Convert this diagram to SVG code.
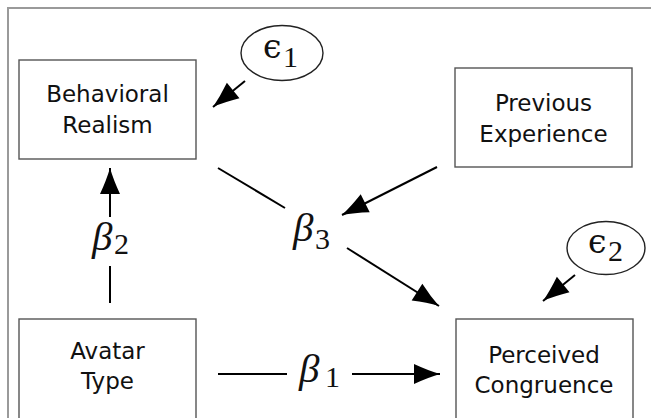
<svg xmlns="http://www.w3.org/2000/svg" width="651" height="418" viewBox="0 0 651 418">
<defs>
<style>
.frame{fill:none;stroke:#9a9a9a;stroke-width:2}
.box{fill:#fff;stroke:#555;stroke-width:1.4}
.ell{fill:#fff;stroke:#222;stroke-width:1.4}
.lbl{font-family:"DejaVu Sans",sans-serif;font-size:23px;fill:#111;text-anchor:middle}
.beta{font-family:"Liberation Serif",serif;font-style:italic;font-size:41px;fill:#111}
.sub{font-family:"Liberation Serif",serif;font-size:30px;fill:#111}
.eps{font-family:"DejaVu Serif",serif;font-size:33px;fill:#111}
.ln{fill:none;stroke:#000;stroke-width:2}
.arr{fill:none;stroke:#000;stroke-width:2;marker-end:url(#ah)}
</style>
<marker id="ah" markerUnits="userSpaceOnUse" markerWidth="30" markerHeight="26" viewBox="-28 -13 30 26" refX="0" refY="0" orient="auto">
<path d="M0,0 Q-12,-3.5 -26,-10 L-26,10 Q-12,3.5 0,0 Z" fill="#000"/>
</marker>
</defs>
<rect class="frame" x="8" y="8" width="660" height="430"/>
<g id="behavioral-realism">
<rect class="box" x="19" y="60" width="177" height="99"/>
<text class="lbl" x="107.5" y="102">Behavioral</text>
<text class="lbl" x="107.5" y="133">Realism</text>
</g>
<g id="previous-experience">
<rect class="box" x="455" y="68" width="177" height="99"/>
<text class="lbl" x="543.5" y="111">Previous</text>
<text class="lbl" x="543.5" y="142">Experience</text>
</g>
<g id="avatar-type">
<rect class="box" x="19" y="319" width="177" height="120"/>
<text class="lbl" x="107.5" y="359">Avatar</text>
<text class="lbl" x="107.5" y="389">Type</text>
</g>
<g id="perceived-congruence">
<rect class="box" x="456" y="319" width="177" height="120"/>
<text class="lbl" x="544" y="362.5">Perceived</text>
<text class="lbl" x="544" y="392.5">Congruence</text>
</g>
<g id="epsilon1">
<ellipse class="ell" cx="282" cy="53" rx="41" ry="27.5"/>
<text class="eps" x="263" y="58">ϵ</text>
<text class="sub" x="283" y="67">1</text>
</g>
<g id="epsilon2">
<ellipse class="ell" cx="606" cy="248" rx="39" ry="26.5"/>
<text class="eps" x="588" y="253">ϵ</text>
<text class="sub" x="608" y="261">2</text>
</g>
<g id="connectors">
<line class="arr" x1="245" y1="81" x2="213" y2="107"/>
<line class="ln" x1="110" y1="303" x2="110" y2="266"/>
<line class="arr" x1="110" y1="217" x2="110" y2="168"/>
<line class="ln" x1="218" y1="168" x2="285" y2="208"/>
<line class="arr" x1="437" y1="167" x2="342" y2="215"/>
<line class="arr" x1="347" y1="248" x2="439" y2="306"/>
<line class="arr" x1="575" y1="275" x2="543" y2="301"/>
<line class="ln" x1="218" y1="374" x2="287" y2="374"/>
<line class="arr" x1="352" y1="374" x2="440" y2="374"/>
</g>
<g id="coefficients">
<text class="beta" x="293" y="241">β</text>
<text class="sub" x="315" y="249">3</text>
<text class="beta" x="92" y="250">β</text>
<text class="sub" x="114" y="254">2</text>
<text class="beta" x="299" y="382">β</text>
<text class="sub" x="325" y="387">1</text>
</g>
</svg>
